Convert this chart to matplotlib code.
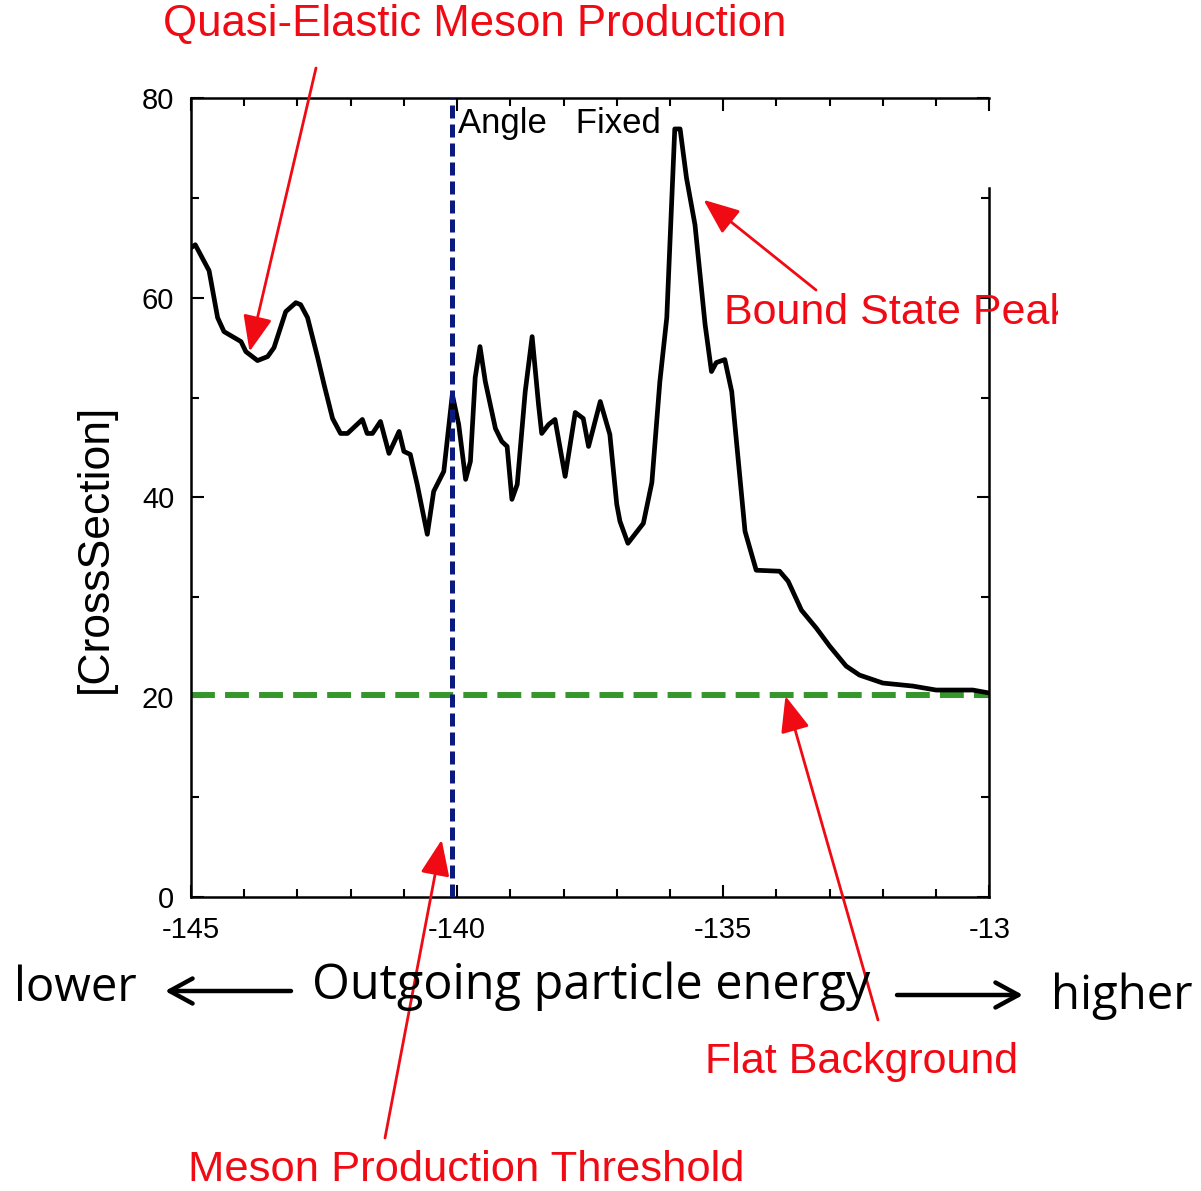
import matplotlib
matplotlib.use("Agg")
import matplotlib.pyplot as plt
from matplotlib import font_manager
from matplotlib.transforms import Bbox, TransformedBbox

energy = [-145.0, -144.92, -144.66, -144.5, -144.38, -144.06, -143.97, -143.75, -143.56, -143.44,
          -143.22, -143.03, -142.94, -142.81, -142.62, -142.5, -142.34, -142.19, -142.06, -141.78,
          -141.69, -141.59, -141.44, -141.28, -141.09, -141.0, -140.88, -140.75, -140.56, -140.44,
          -140.25, -140.09, -139.97, -139.84, -139.75, -139.66, -139.57, -139.47, -139.28, -139.16,
          -139.06, -138.97, -138.87, -138.72, -138.59, -138.47, -138.41, -138.28, -138.16, -137.97,
          -137.78, -137.63, -137.53, -137.31, -137.13, -137.0, -136.94, -136.79, -136.5, -136.34,
          -136.19, -136.06, -135.91, -135.81, -135.69, -135.53, -135.34, -135.22, -135.13, -134.97,
          -134.84, -134.59, -134.38, -133.94, -133.78, -133.53, -133.25, -133.0, -132.69, -132.44,
          -132.0, -131.44, -131.0, -130.31, -130.0]
cross_section = [65.0, 65.3, 62.7, 58.0, 56.6, 55.6, 54.6, 53.7, 54.1, 55.0,
                 58.6, 59.5, 59.3, 58.0, 54.0, 51.3, 47.9, 46.4, 46.4, 47.8,
                 46.4, 46.4, 47.6, 44.4, 46.6, 44.6, 44.3, 41.3, 36.3, 40.6,
                 42.6, 50.3, 47.3, 41.8, 43.6, 52.0, 55.1, 51.6, 46.9, 45.6,
                 45.1, 39.8, 41.3, 50.6, 56.1, 49.3, 46.4, 47.3, 47.8, 42.1,
                 48.5, 47.9, 45.1, 49.6, 46.3, 39.3, 37.6, 35.4, 37.4, 41.5,
                 51.6, 58.0, 76.9, 76.9, 72.0, 67.3, 57.3, 52.6, 53.5, 53.8,
                 50.6, 36.6, 32.7, 32.6, 31.6, 28.7, 26.9, 25.1, 23.1, 22.2,
                 21.4, 21.1, 20.7, 20.7, 20.4]

background_level = 20.2
threshold_energy = -140.1

x_ticks = [-145, -140, -135, -130]
x_tick_labels = ["-145", "-140", "-135", "-13"]
y_ticks = [0, 20, 40, 60, 80]

W, H = 1201, 1191


def fx(px):
    return px / W


def fy(py):
    return 1 - py / H


installed = {f.name for f in font_manager.fontManager.ttflist}
narrow = "Liberation Sans Narrow" if "Liberation Sans Narrow" in installed else "Liberation Sans"
label_font = "Open Sans" if "Open Sans" in installed else "DejaVu Sans"

fig = plt.figure(figsize=(W / 100, H / 100), dpi=100)
ax = fig.add_axes([fx(191), fy(896.7), fx(989.3) - fx(191), fy(98) - fy(896.7)])

ax.plot(energy, cross_section, color="black", lw=3.4, solid_joinstyle="round", zorder=3)
ax.axhline(background_level, color="#35972b", lw=4.3, dashes=(4, 1.7), zorder=2)
ax.axvline(threshold_energy, color="#0b1a7e", lw=3.6, dashes=(2.6, 1.2), zorder=4)

ax.set_xlim(-145, -130)
ax.set_ylim(0, 80)
ax.set_xticks(x_ticks)
ax.set_xticklabels(x_tick_labels)
ax.set_xticks(range(-145, -129), minor=True)
ax.set_yticks(y_ticks)
ax.set_yticks(range(0, 81, 10), minor=True)

for s in ax.spines.values():
    s.set_linewidth(1.8)
ax.spines["right"].set_bounds(0, 71)

ax.tick_params(which="both", direction="in", top=True, right=True, width=1.5,
               labelsize=21, labelfontfamily="Liberation Sans")
ax.tick_params(axis="x", pad=14)
ax.tick_params(axis="y", pad=12)
ax.tick_params(which="major", length=9)
ax.tick_params(which="minor", length=6)

ax.text(fx(458), fy(123), "Angle   Fixed", transform=fig.transFigure, fontsize=25,
        family="Liberation Sans", va="center", ha="left")

# axis captions
fig.text(fx(95), fy(548), "[CrossSection]", rotation=90, fontsize=32, family="Liberation Sans",
         ha="center", va="center")
fig.text(fx(14), fy(988), "lower", fontsize=34, family=label_font, ha="left", va="center")
fig.text(fx(312), fy(986), "Outgoing particle energy", fontsize=35, family=label_font,
         ha="left", va="center")
fig.text(fx(1051), fy(996), "higher", fontsize=34, family=label_font, ha="left", va="center")

arr = dict(arrowstyle="->,head_length=0.55,head_width=0.3", color="black", lw=3.2,
           mutation_scale=30, shrinkA=0, shrinkB=0, capstyle="round", joinstyle="round")
ax.annotate("", xy=(fx(165), fy(991)), xytext=(fx(291), fy(991)), xycoords="figure fraction",
            textcoords="figure fraction", arrowprops=arr, annotation_clip=False)
ax.annotate("", xy=(fx(1023), fy(995)), xytext=(fx(897), fy(995)), xycoords="figure fraction",
            textcoords="figure fraction", arrowprops=arr, annotation_clip=False)

# red annotations
red = "#f00a14"
fig.text(fx(475), fy(25), "Quasi-Elastic Meson Production", color=red, fontsize=31.5,
         family=narrow, ha="center", va="center")
bound = fig.text(fx(724), fy(313), "Bound State Peak", color=red, fontsize=31,
                 family=narrow, ha="left", va="center")
bound.set_clip_box(TransformedBbox(Bbox([[0, 0], [fx(1058), 1]]), fig.transFigure))
bound.set_clip_on(True)
fig.text(fx(705), fy(1062), "Flat Background", color=red, fontsize=31, family=narrow,
         ha="left", va="center")
fig.text(fx(188), fy(1170), "Meson Production Threshold", color=red, fontsize=31.3,
         family=narrow, ha="left", va="center")

red_arr = dict(arrowstyle="-|>,head_length=1.1,head_width=0.45", color=red, lw=2,
               mutation_scale=20, shrinkA=0, shrinkB=0)
pointers = [((-143.9, 54.6), (316, 68)),
            ((-135.37, 69.8), (816, 290)),
            ((-133.83, 20.1), (878, 1020)),
            ((-140.29, 5.7), (385, 1138))]
for tip, tail in pointers:
    ax.annotate("", xy=tip, xycoords="data", xytext=(fx(tail[0]), fy(tail[1])),
                textcoords="figure fraction", arrowprops=red_arr, annotation_clip=False)

fig.savefig("out.png", dpi=100)
